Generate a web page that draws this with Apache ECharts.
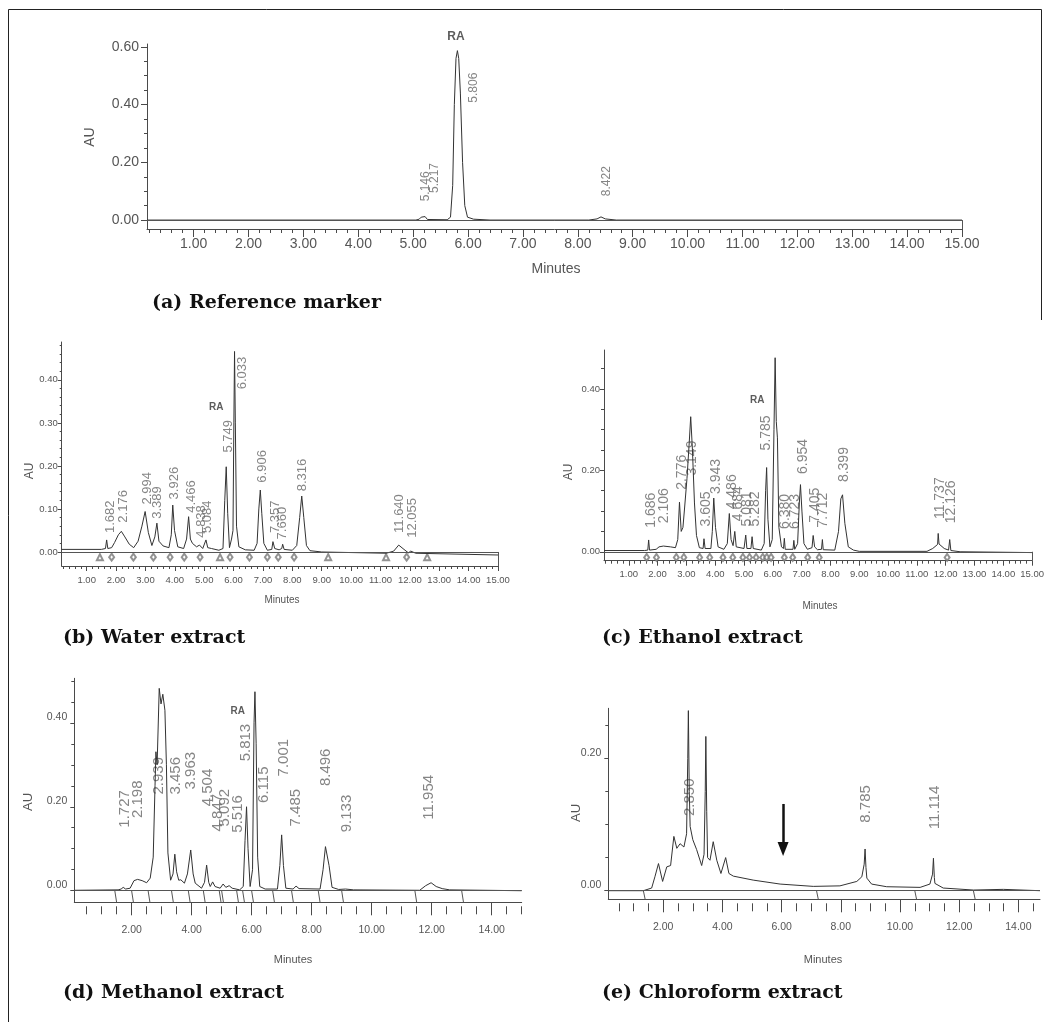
<!DOCTYPE html>
<html>
<head>
<meta charset="utf-8">
<title>HPLC chromatograms</title>
<script src="https://cdn.jsdelivr.net/npm/echarts@6/dist/echarts.min.js"></script>
<style>
  html, body { margin: 0; padding: 0; background: #fff; }
  #main { width: 1047px; height: 1022px; }
</style>
</head>
<body>
<div id="main"></div>
<script>
// ---- data: [minutes, AU] ----
// (a) reference marker
var aTrace = [[0.15,0],[5.05,0],[5.11,0.003],[5.146,0.010],[5.18,0.004],[5.217,0.012],[5.26,0.002],[5.62,0.001],
  [5.68,0.010],[5.72,0.120],[5.75,0.400],[5.78,0.560],[5.806,0.587],[5.83,0.560],[5.86,0.440],[5.90,0.200],
  [5.94,0.050],[5.99,0.010],[6.10,0.003],[6.40,0],[8.20,0],[8.35,0.004],[8.422,0.011],[8.50,0.004],[8.70,0],[15.0,0]];
var aPeakNames = ['5.146', '5.217', '5.806', '8.422'];
var aLabelAt = [[5.23,0.063],[5.40,0.092],[6.12,0.405],[8.53,0.081]];
var aRA = [5.79, 0.635];
var aXLabels = [1,2,3,4,5,6,7,8,9,10,11,12,13,14,15];
var aYLabels = [0, 0.2, 0.4, 0.6];

// (b) water extract
var bTrace = [[0.15,0.006],[1.50,0.006],[1.64,0.008],[1.68,0.028],[1.72,0.008],[1.85,0.010],[1.95,0.022],[2.08,0.040],
  [2.18,0.048],[2.30,0.035],[2.45,0.018],[2.60,0.010],[2.75,0.025],[2.88,0.060],[2.99,0.094],[3.10,0.045],[3.22,0.015],
  [3.32,0.035],[3.39,0.067],[3.46,0.025],[3.60,0.014],[3.80,0.010],[3.88,0.040],[3.93,0.109],[3.99,0.050],[4.10,0.012],
  [4.30,0.008],[4.40,0.030],[4.47,0.082],[4.53,0.030],[4.60,0.020],[4.66,0.024],[4.74,0.012],[4.84,0.016],[4.95,0.008],
  [5.06,0.028],[5.12,0.010],[5.25,0.008],[5.50,0.004],[5.64,0.008],[5.70,0.120],[5.75,0.198],[5.80,0.090],[5.86,0.010],
  [5.93,0.030],[5.98,0.050],[6.01,0.300],[6.033,0.466],[6.06,0.300],[6.10,0.060],[6.18,0.012],[6.40,0.005],[6.70,0.004],
  [6.80,0.020],[6.86,0.100],[6.91,0.144],[6.96,0.090],[7.03,0.020],[7.15,0.004],[7.30,0.006],[7.34,0.024],[7.40,0.008],
  [7.55,0.005],[7.64,0.008],[7.67,0.018],[7.72,0.006],[8.00,0.004],[8.15,0.015],[8.25,0.080],[8.32,0.130],[8.39,0.080],
  [8.48,0.015],[8.60,0.003],[9.00,0],[11.20,-0.003],[11.45,0.002],[11.62,0.016],[11.80,0.006],[11.95,-0.002],
  [12.03,0.002],[12.06,0.006],[12.20,-0.003],[15.0,-0.007]];
var bPeakNames = ['1.682','2.176','2.994','3.389','3.926','4.466','4.838','5.084','5.749','6.033','6.906','7.357','7.660','8.316','11.640','12.055'];
var bLabelAt = [[1.82,0.043],[2.27,0.067],[3.08,0.109],[3.44,0.076],[4.01,0.121],[4.57,0.090],[4.91,0.032],[5.14,0.043],
  [5.85,0.230],[6.31,0.377],[6.99,0.160],[7.44,0.043],[7.69,0.028],[8.37,0.140],[11.66,0.043],[12.12,0.032]];
var bRA = [5.43, 0.336];
var bEventsTri = [1.45, 5.54, 9.22, 11.19, 12.59];
var bEventsDia = [1.85, 2.59, 3.27, 3.84, 4.32, 4.86, 5.88, 6.54, 7.15, 7.52, 8.06, 11.89];
var bXLabels = [1,2,3,4,5,6,7,8,9,10,11,12,13,14,15];
var bYLabels = [0, 0.1, 0.2, 0.3, 0.4];

// (c) ethanol extract
var cTrace = [[0.14,0.003],[1.55,0.003],[1.66,0.004],[1.69,0.029],[1.72,0.004],[1.95,0.006],[2.05,0.012],[2.20,0.014],
  [2.45,0.012],[2.62,0.010],[2.70,0.030],[2.76,0.122],[2.82,0.050],[2.88,0.060],[2.94,0.110],[3.02,0.180],[3.10,0.270],
  [3.15,0.332],[3.21,0.250],[3.28,0.120],[3.35,0.040],[3.45,0.010],[3.58,0.008],[3.61,0.032],[3.65,0.008],[3.85,0.008],
  [3.90,0.050],[3.95,0.132],[4.01,0.060],[4.10,0.012],[4.30,0.006],[4.42,0.020],[4.49,0.094],[4.55,0.030],[4.62,0.015],
  [4.68,0.050],[4.73,0.012],[5.00,0.008],[5.06,0.041],[5.10,0.008],[5.24,0.008],[5.28,0.037],[5.32,0.008],[5.60,0.004],
  [5.70,0.020],[5.75,0.150],[5.785,0.207],[5.83,0.080],[5.90,0.012],[5.98,0.030],[6.04,0.300],[6.08,0.477],[6.12,0.320],
  [6.16,0.280],[6.21,0.060],[6.30,0.012],[6.37,0.008],[6.40,0.033],[6.43,0.006],[6.70,0.006],[6.73,0.028],[6.76,0.006],
  [6.86,0.020],[6.92,0.120],[6.96,0.165],[7.01,0.100],[7.08,0.020],[7.20,0.006],[7.36,0.010],[7.40,0.040],[7.45,0.012],
  [7.55,0.005],[7.69,0.006],[7.72,0.030],[7.75,0.005],[8.15,0.004],[8.28,0.050],[8.36,0.130],[8.42,0.140],[8.50,0.070],
  [8.62,0.012],[8.80,0.004],[9.00,0.001],[11.35,0.001],[11.55,0.008],[11.72,0.018],[11.74,0.045],[11.77,0.019],
  [11.95,0.008],[12.10,0.004],[12.14,0.030],[12.18,0.003],[12.50,0],[15.0,-0.002]];
var cPeakNames = ['1.686','2.106','2.776','3.149','3.605','3.943','4.486','4.684','5.081','5.282','5.785','6.380','6.723','6.954','7.405','7.712','8.399','11.737','12.126'];
var cLabelAt = [[1.79,0.058],[2.25,0.069],[2.86,0.151],[3.23,0.186],[3.69,0.061],[4.06,0.141],[4.61,0.103],[4.82,0.074],
  [5.13,0.061],[5.40,0.061],[5.77,0.248],[6.46,0.055],[6.80,0.055],[7.06,0.190],[7.47,0.070],[7.75,0.058],[8.51,0.170],
  [11.82,0.079],[12.20,0.069]];
var cRA = [5.48, 0.372];
var cEvents = [1.62, 1.96, 2.65, 2.91, 3.46, 3.81, 4.27, 4.61, 4.96, 5.19, 5.42, 5.65, 5.79, 5.94, 6.40, 6.69, 7.21, 7.61, 12.05];
var cXLabels = [1,2,3,4,5,6,7,8,9,10,11,12,13,14,15];
var cYLabels = [0, 0.2, 0.4];

// (d) methanol extract
var dTrace = [[0.10,0.001],[1.55,0.002],[1.65,0.004],[1.72,0.008],[1.80,0.004],[1.95,0.006],[2.08,0.024],[2.20,0.027],
  [2.35,0.024],[2.50,0.019],[2.62,0.030],[2.72,0.080],[2.78,0.250],[2.81,0.331],[2.85,0.300],[2.92,0.482],[2.98,0.445],
  [3.04,0.468],[3.11,0.430],[3.16,0.300],[3.21,0.090],[3.30,0.025],[3.38,0.040],[3.44,0.087],[3.50,0.045],[3.57,0.025],
  [3.64,0.026],[3.76,0.018],[3.86,0.040],[3.97,0.097],[4.05,0.040],[4.12,0.018],[4.33,0.006],[4.43,0.020],[4.50,0.061],
  [4.57,0.020],[4.62,0.010],[4.70,0.021],[4.78,0.010],[4.95,0.006],[5.05,0.016],[5.14,0.008],[5.25,0.012],[5.35,0.006],
  [5.60,0.002],[5.72,0.010],[5.78,0.120],[5.83,0.200],[5.88,0.100],[5.95,0.010],[6.03,0.050],[6.08,0.400],[6.11,0.474],
  [6.15,0.350],[6.20,0.080],[6.27,0.010],[6.45,0.004],[6.86,0.004],[6.94,0.060],[7.00,0.133],[7.06,0.060],[7.14,0.006],
  [7.38,0.004],[7.48,0.011],[7.58,0.005],[8.28,0.004],[8.38,0.050],[8.46,0.105],[8.50,0.109],[8.58,0.060],[8.68,0.008],
  [8.90,0.003],[9.13,0.004],[9.40,0.002],[11.60,0.001],[11.80,0.012],[11.98,0.019],[12.15,0.010],[12.35,0.005],
  [12.60,0.002],[15.0,0]];
var dPeakNames = ['1.727','2.198','2.939','3.456','3.963','4.504','4.847','5.092','5.516','5.813','6.115','7.001','7.485','8.496','9.133','11.954'];
var dLabelAt = [[1.78,0.149],[2.22,0.172],[2.92,0.228],[3.48,0.228],[4.00,0.240],[4.55,0.200],[4.89,0.140],[5.14,0.152],
  [5.55,0.137],[5.83,0.307],[6.44,0.208],[7.08,0.271],[7.50,0.152],[8.50,0.248],[9.19,0.138],[11.92,0.168]];
var dRA = [5.55, 0.426];
var dDrops = [1.44, 2.0, 2.55, 3.33, 3.89, 4.39, 4.92, 5.0, 5.5, 5.7, 6.0, 6.7, 7.33, 8.22, 9.0, 11.44, 13.0];
var dXLabels = [2,4,6,8,10,12,14];
var dYLabels = [0, 0.2, 0.4];

// (e) chloroform extract
var eTrace = [[0.145,0],[1.33,0],[1.61,0.004],[1.72,0.021],[1.84,0.041],[1.98,0.014],[2.12,0.036],[2.25,0.038],
  [2.36,0.082],[2.46,0.064],[2.57,0.071],[2.70,0.066],[2.79,0.086],[2.83,0.200],[2.85,0.272],[2.88,0.150],[2.91,0.097],
  [3.00,0.077],[3.13,0.062],[3.30,0.038],[3.38,0.055],[3.42,0.150],[3.44,0.233],[3.47,0.120],[3.50,0.050],[3.58,0.046],
  [3.69,0.074],[3.81,0.046],[3.95,0.026],[4.11,0.050],[4.22,0.026],[4.37,0.022],[5.04,0.016],[5.95,0.010],[7.07,0.0065],
  [7.97,0.0073],[8.54,0.014],[8.71,0.021],[8.79,0.040],[8.82,0.063],[8.85,0.035],[8.88,0.019],[9.04,0.010],[9.55,0.006],
  [10.68,0.005],[11.01,0.010],[11.10,0.025],[11.13,0.049],[11.16,0.020],[11.18,0.011],[11.46,0.004],[12.48,0.001],
  [13.49,0.002],[14.73,0]];
var ePeakNames = ['2.850', '8.785', '11.114'];
var eLabelAt = [[2.93,0.112],[8.87,0.102],[11.18,0.092]];
var eDrops = [1.33, 7.18, 10.5, 12.48];
var eArrow = [[6.05,0.131],[6.05,0.063]];
var eXLabels = [2,4,6,8,10,12,14];
var eYLabels = [0, 0.2];

// ---- styling ----
var AXIS = '#4a4a4a', TXT = '#555', TRACE = '#333', PEAK = '#666';
var SANS = "'Liberation Sans', Arial, sans-serif";
var SERIF = "'DejaVu Serif', 'Liberation Serif', serif";

function range(a, b, step) {
  var out = [];
  for (var i = 0; a + i * step <= b + 1e-9; i++) out.push(+(a + i * step).toFixed(4));
  return out;
}

var panels = [
  { trace: aTrace, names: aPeakNames, labelAt: aLabelAt, ra: aRA,
    left: 147, top: 44, width: 815, height: 185, xMin: 0.15, xMax: 15, yMin: -0.031, yMax: 0.61,
    xLabels: aXLabels, xMajorLen: 8, xMinor: range(0.2, 15, 0.2), xMinorLen: 4, xMinorOffset: 0, xLabelMargin: 8,
    yLabels: aYLabels, yMajorLen: 6, yMinor: range(0, 0.6, 0.05), yMinorLen: 3, yLabelMargin: 8, yLift: false,
    tickFont: 14, peakFont: 12, raFont: 12,
    caption: '(a) Reference marker', cap: [152, 303], au: [90, 137], auFont: 14,
    minutes: [556, 269], minFont: 14, endBox: true },
  { trace: bTrace, names: bPeakNames, labelAt: bLabelAt, ra: bRA, eventsTri: bEventsTri, eventsDia: bEventsDia, eventY: -0.012,
    left: 61.7, top: 342, width: 436.3, height: 224, xMin: 0.15, xMax: 15, yMin: -0.0326, yMax: 0.488,
    xLabels: bXLabels, xMajorLen: 5, xMinor: range(0.2, 15, 0.2), xMinorLen: 3, xMinorOffset: 0, xLabelMargin: 9,
    yLabels: bYLabels, yMajorLen: 4, yMinor: range(0, 0.48, 0.02), yMinorLen: 2, yLabelMargin: 4, yLift: false,
    tickFont: 9.5, peakFont: 13, raFont: 10,
    caption: '(b) Water extract', cap: [63, 638], au: [30, 471], auFont: 12,
    minutes: [282, 600], minFont: 10, endBox: true },
  { trace: cTrace, names: cPeakNames, labelAt: cLabelAt, ra: cRA, eventsDia: cEvents, eventY: -0.014,
    left: 604, top: 350, width: 429.5, height: 210.7, xMin: 0.14, xMax: 15, yMin: -0.022, yMax: 0.496,
    xLabels: cXLabels, xMajorLen: 5, xMinor: range(0.2, 15, 0.2), xMinorLen: 3, xMinorOffset: 0, xLabelMargin: 9,
    yLabels: cYLabels, yMajorLen: 4, yMinor: range(0, 0.45, 0.05), yMinorLen: 3, yLabelMargin: 4, yLift: false,
    tickFont: 9.5, peakFont: 14, raFont: 10,
    caption: '(c) Ethanol extract', cap: [602, 638], au: [569, 472], auFont: 12,
    minutes: [820, 606], minFont: 10, endBox: true },
  { trace: dTrace, names: dPeakNames, labelAt: dLabelAt, ra: dRA, drops: dDrops,
    left: 74.3, top: 678.3, width: 447.4, height: 224, xMin: 0.09, xMax: 15, yMin: -0.0276, yMax: 0.506,
    xLabels: dXLabels, xMajorLen: 13, xMinor: range(0.5, 15, 0.5), xMinorLen: 8, xMinorOffset: 4, xLabelMargin: 22,
    yLabels: dYLabels, yMajorLen: 4, yMinor: range(0, 0.5, 0.05), yMinorLen: 3, yLabelMargin: 7, yLift: true,
    tickFont: 10.5, peakFont: 15, raFont: 10,
    caption: '(d) Methanol extract', cap: [63, 993], au: [28, 802], auFont: 13,
    minutes: [293, 960], minFont: 11 },
  { trace: eTrace, names: ePeakNames, labelAt: eLabelAt, drops: eDrops, arrow: eArrow,
    left: 608.3, top: 708.3, width: 431.7, height: 191, xMin: 0.145, xMax: 14.73, yMin: -0.013, yMax: 0.2755,
    xLabels: eXLabels, xMajorLen: 13, xMinor: range(0.5, 14.5, 0.5), xMinorLen: 8, xMinorOffset: 4, xLabelMargin: 22,
    yLabels: eYLabels, yMajorLen: 4, yMinor: range(0, 0.25, 0.05), yMinorLen: 3, yLabelMargin: 7, yLift: true,
    tickFont: 10.5, peakFont: 15,
    caption: '(e) Chloroform extract', cap: [602, 993], au: [576, 813], auFont: 13,
    minutes: [823, 960], minFont: 11 }
];

var grids = [], xAxes = [], yAxes = [], series = [], graphics = [];
function fmt2(v) { return Number(v).toFixed(2); }

panels.forEach(function (p, gi) {
  grids.push({ left: p.left, top: p.top, width: p.width, height: p.height, containLabel: false });
  var xi = xAxes.length, yi = yAxes.length;
  var tickLine = { color: AXIS, width: 1 };

  xAxes.push({
    type: 'value', gridIndex: gi, position: 'bottom', min: p.xMin, max: p.xMax,
    axisLine: { show: true, onZero: false, lineStyle: tickLine },
    axisTick: { show: true, customValues: p.xLabels, length: p.xMajorLen, lineStyle: tickLine },
    axisLabel: { customValues: p.xLabels, formatter: fmt2, color: TXT, fontSize: p.tickFont,
                 fontFamily: SANS, margin: p.xLabelMargin },
    splitLine: { show: false }
  });
  xAxes.push({
    type: 'value', gridIndex: gi, position: 'bottom', offset: p.xMinorOffset, min: p.xMin, max: p.xMax,
    axisLine: { show: false, onZero: false },
    axisTick: { show: true, customValues: p.xMinor, length: p.xMinorLen, lineStyle: tickLine },
    axisLabel: { show: false }, splitLine: { show: false }
  });
  yAxes.push({
    type: 'value', gridIndex: gi, position: 'left', min: p.yMin, max: p.yMax,
    axisLine: { show: true, onZero: false, lineStyle: tickLine },
    axisTick: { show: true, customValues: p.yLabels, length: p.yMajorLen, lineStyle: tickLine },
    axisLabel: { customValues: p.yLabels, formatter: fmt2, color: TXT, fontSize: p.tickFont,
                 fontFamily: SANS, margin: p.yLabelMargin, verticalAlign: p.yLift ? 'bottom' : 'middle' },
    splitLine: { show: false }
  });
  yAxes.push({
    type: 'value', gridIndex: gi, position: 'left', min: p.yMin, max: p.yMax,
    axisLine: { show: false, onZero: false },
    axisTick: { show: true, customValues: p.yMinor, length: p.yMinorLen, lineStyle: tickLine },
    axisLabel: { show: false }, splitLine: { show: false }
  });

  // reference lines: zero baseline, end box, integration drop lines, arrow
  var marks = [{ yAxis: 0 }];
  if (p.endBox) marks.push([{ coord: [p.xMax, p.yMin] }, { coord: [p.xMax, 0] }]);
  (p.drops || []).forEach(function (t) {
    marks.push([{ coord: [t, 0] }, { coord: [t + 0.06, p.yMin] }]);
  });
  if (p.arrow) {
    marks.push([
      { coord: p.arrow[0], symbol: 'none', lineStyle: { color: '#111', width: 2.5 } },
      { coord: p.arrow[1], symbol: 'triangle', symbolSize: [11, 14] }
    ]);
  }

  series.push({
    type: 'line', xAxisIndex: xi, yAxisIndex: yi, data: p.trace,
    symbol: 'none', showSymbol: false, silent: true, animation: false,
    lineStyle: { color: TRACE, width: 1 },
    markLine: {
      silent: true, animation: false, symbol: 'none', label: { show: false },
      lineStyle: { color: '#555', width: 1, type: 'solid' },
      itemStyle: { color: '#111' },
      data: marks
    }
  });

  // retention-time labels, rotated
  series.push({
    type: 'scatter', xAxisIndex: xi, yAxisIndex: yi, clip: false, silent: true, animation: false,
    symbolSize: 1, itemStyle: { color: 'rgba(0,0,0,0)' },
    data: p.names.map(function (n, i) { return { name: n, value: p.labelAt[i] }; }),
    label: { show: true, position: [0, 0], rotate: 90, align: 'left', verticalAlign: 'middle',
             formatter: '{b}', color: PEAK, fontSize: p.peakFont, fontFamily: SANS }
  });

  if (p.ra) {
    series.push({
      type: 'scatter', xAxisIndex: xi, yAxisIndex: yi, clip: false, silent: true, animation: false,
      symbolSize: 1, itemStyle: { color: 'rgba(0,0,0,0)' },
      data: [{ name: 'RA', value: p.ra }],
      label: { show: true, position: [0, 0], align: 'center', verticalAlign: 'middle', formatter: '{b}',
               color: '#333', fontWeight: 'bold', fontSize: p.raFont, fontFamily: SANS }
    });
  }

  // integration event markers under the baseline
  if (p.eventsDia) {
    series.push({
      type: 'scatter', xAxisIndex: xi, yAxisIndex: yi, silent: true, animation: false,
      symbol: 'emptyDiamond', symbolSize: [5, 7], itemStyle: { color: '#777', borderWidth: 1 },
      data: p.eventsDia.map(function (t) { return [t, p.eventY]; })
    });
  }
  if (p.eventsTri) {
    series.push({
      type: 'scatter', xAxisIndex: xi, yAxisIndex: yi, silent: true, animation: false,
      symbol: 'emptyTriangle', symbolSize: [6, 6], itemStyle: { color: '#777', borderWidth: 1 },
      data: p.eventsTri.map(function (t) { return [t, p.eventY]; })
    });
  }

  graphics.push({
    type: 'text', x: p.cap[0], y: p.cap[1], silent: true,
    style: { text: p.caption, fill: '#111', font: 'bold 19px ' + SERIF, align: 'left', verticalAlign: 'middle' }
  });
  graphics.push({
    type: 'text', x: p.au[0], y: p.au[1], rotation: Math.PI / 2, silent: true,
    style: { text: 'AU', fill: TXT, font: p.auFont + 'px ' + SANS, align: 'center', verticalAlign: 'middle' }
  });
  graphics.push({
    type: 'text', x: p.minutes[0], y: p.minutes[1], silent: true,
    style: { text: 'Minutes', fill: TXT, font: p.minFont + 'px ' + SANS, align: 'center', verticalAlign: 'middle' }
  });
});

// outer frame
graphics.push({
  type: 'polyline', silent: true,
  shape: { points: [[8.5, 1022], [8.5, 9.5], [1041.5, 9.5], [1041.5, 320]] },
  style: { stroke: '#222', lineWidth: 1, fill: 'none' }
});

var chart = echarts.init(document.getElementById('main'), null, { renderer: 'canvas' });
chart.setOption({
  backgroundColor: '#fff',
  animation: false,
  grid: grids,
  xAxis: xAxes,
  yAxis: yAxes,
  series: series,
  graphic: graphics
});
</script>
</body>
</html>
